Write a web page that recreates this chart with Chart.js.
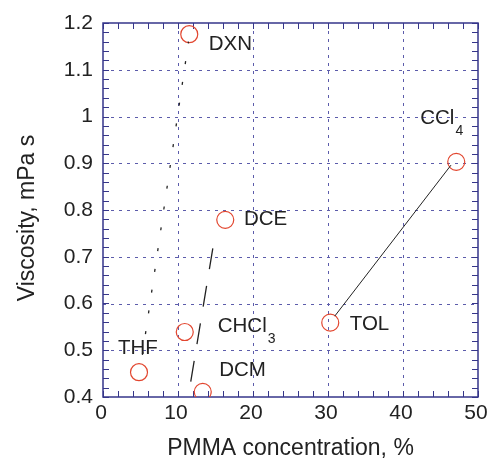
<!DOCTYPE html>
<html>
<head>
<meta charset="utf-8">
<script src="https://cdn.jsdelivr.net/npm/chart.js@4.4.1/dist/chart.umd.min.js"></script>
<style>
  html, body { margin: 0; padding: 0; background: #fff; }
  #wrap { width: 488px; height: 462px; }
</style>
</head>
<body>
<div id="wrap"><canvas id="viscChart" width="488" height="462"></canvas></div>
<script>
// Solvents and measured values
const solvents = ['THF', 'DXN', 'DCE', 'CHCl3', 'DCM', 'TOL', 'CCl4'];
const concentration = [4.8, 11.5, 16.3, 10.9, 13.3, 30.3, 47.1];
const viscosity = [0.453, 1.176, 0.779, 0.539, 0.411, 0.559, 0.903];

// Guide lines between point pairs
const dottedLineX = [5.25, 11.4];
const dottedLineY = [0.49, 1.16];
const dashedLineX = [11.7, 14.9];
const dashedLineY = [0.433, 0.743];
const solidLineX = [30.9, 46.4];
const solidLineY = [0.573, 0.896];

// Axis ticks
const xTicks = [0, 10, 20, 30, 40, 50];
const yTicks = [0.4, 0.5, 0.6, 0.7, 0.8, 0.9, 1.0, 1.1, 1.2];

// Where each solvent name is written (data units, left edge / middle)
const labelX = [2.0, 14.1, 18.8, 15.3, 15.5, 32.9, 42.3];
const labelY = [0.505, 1.155, 0.781, 0.552, 0.458, 0.556, 0.997];

const FONT = 'Liberation Sans, Arial, sans-serif';
const AXIS_COLOR = '#36368a';
const GRID_COLOR = '#5c5cab';

function pairs(xs, ys) {
    return xs.map((x, i) => ({ x: x, y: ys[i] }));
}

// Box, dashed grid and small inside ticks
const framePlugin = {
    id: 'frame',
    beforeDatasetsDraw(chart) {
        const { ctx, chartArea: a, scales } = chart;
        const xs = scales.x, ys = scales.y;
        ctx.save();
        ctx.lineWidth = 1;
        ctx.strokeStyle = GRID_COLOR;
        ctx.setLineDash([3, 5]);
        xTicks.slice(1, -1).forEach(v => {
            const px = Math.round(xs.getPixelForValue(v)) + 0.5;
            ctx.beginPath();
            ctx.moveTo(px, a.top);
            ctx.lineTo(px, a.bottom);
            ctx.stroke();
        });
        yTicks.slice(1, -1).forEach(v => {
            const py = Math.round(ys.getPixelForValue(v)) + 0.5;
            ctx.beginPath();
            ctx.moveTo(a.left, py);
            ctx.lineTo(a.right, py);
            ctx.stroke();
        });
        ctx.setLineDash([]);
        ctx.strokeStyle = AXIS_COLOR;
        ctx.lineWidth = 1;
        const tl = 6;
        for (let v = 0; v <= 50; v += 2) {
            const px = Math.round(xs.getPixelForValue(v)) + 0.5;
            ctx.beginPath();
            ctx.moveTo(px, a.bottom);
            ctx.lineTo(px, a.bottom - tl);
            ctx.moveTo(px, a.top);
            ctx.lineTo(px, a.top + tl);
            ctx.stroke();
        }
        for (let k = 0; k <= 40; k++) {
            const v = 0.4 + k * 0.02;
            const py = Math.round(ys.getPixelForValue(v)) + 0.5;
            ctx.beginPath();
            ctx.moveTo(a.left, py);
            ctx.lineTo(a.left + tl, py);
            ctx.moveTo(a.right, py);
            ctx.lineTo(a.right - tl, py);
            ctx.stroke();
        }
        ctx.lineWidth = 1.5;
        ctx.strokeRect(a.left, a.top, a.right - a.left, a.bottom - a.top);
        ctx.restore();
    }
};

// Solvent names (with subscript digits) and the vertical axis title
const namePlugin = {
    id: 'names',
    afterDatasetsDraw(chart) {
        const { ctx, scales } = chart;
        ctx.save();
        ctx.fillStyle = '#222';
        ctx.textBaseline = 'middle';
        ctx.textAlign = 'left';
        solvents.forEach((name, i) => {
            let px = scales.x.getPixelForValue(labelX[i]);
            const py = scales.y.getPixelForValue(labelY[i]);
            const m = name.match(/^(.*?)(\d*)$/);
            ctx.font = '20.5px ' + FONT;
            ctx.fillText(m[1], px, py);
            if (m[2]) {
                px += ctx.measureText(m[1]).width + 1;
                ctx.font = '14px ' + FONT;
                ctx.fillText(m[2], px, py + 13);
            }
        });
        ctx.translate(28, 218);
        ctx.rotate(-Math.PI / 2);
        ctx.textAlign = 'center';
        ctx.font = '23px ' + FONT;
        ctx.fillText('Viscosity, mPa s', 0, 0);
        ctx.restore();
    }
};

new Chart(document.getElementById('viscChart'), {
    type: 'scatter',
    data: {
        datasets: [
            {
                type: 'line',
                data: pairs(dottedLineX, dottedLineY),
                borderColor: '#222',
                borderWidth: 1.3,
                borderDash: [3, 18],
                pointRadius: 0,
                fill: false
            },
            {
                type: 'line',
                data: pairs(dashedLineX, dashedLineY),
                borderColor: '#222',
                borderWidth: 1.3,
                borderDash: [21, 17],
                pointRadius: 0,
                fill: false
            },
            {
                type: 'line',
                data: pairs(solidLineX, solidLineY),
                borderColor: '#222',
                borderWidth: 1,
                pointRadius: 0,
                fill: false
            },
            {
                data: pairs(concentration, viscosity),
                borderColor: '#e2462f',
                backgroundColor: 'rgba(0,0,0,0)',
                borderWidth: 1.2,
                pointRadius: 8.5,
                pointStyle: 'circle'
            }
        ]
    },
    options: {
        responsive: false,
        animation: false,
        events: [],
        layout: { padding: { top: 23, right: 10, left: 0, bottom: 0 } },
        plugins: {
            legend: { display: false },
            tooltip: { enabled: false }
        },
        scales: {
            x: {
                type: 'linear',
                min: 0,
                max: 50,
                afterBuildTicks: s => { s.ticks = xTicks.map(v => ({ value: v })); },
                afterFit: s => {
                    s.height = 65;
                    s.paddingLeft = 0;
                    s.paddingRight = 0;
                },
                grid: { display: false, drawTicks: false },
                border: { display: false },
                ticks: {
                    color: '#222',
                    font: { family: FONT, size: 21 },
                    padding: 4,
                    labelOffset: -2,
                    maxRotation: 0
                },
                title: {
                    display: true,
                    text: 'PMMA concentration, %',
                    color: '#222',
                    font: { family: FONT, size: 23 },
                    padding: { top: 0, bottom: 0 }
                }
            },
            y: {
                type: 'linear',
                min: 0.4,
                max: 1.2,
                afterBuildTicks: s => { s.ticks = yTicks.map(v => ({ value: v })); },
                afterFit: s => {
                    s.width = 103;
                    s.paddingTop = 0;
                    s.paddingBottom = 0;
                },
                grid: { display: false, drawTicks: false },
                border: { display: false },
                ticks: {
                    color: '#222',
                    font: { family: FONT, size: 21 },
                    padding: 10,
                    callback: v => String(Number(v.toFixed(1)))
                },
                title: { display: false }
            }
        }
    },
    plugins: [framePlugin, namePlugin]
});
</script>
</body>
</html>
